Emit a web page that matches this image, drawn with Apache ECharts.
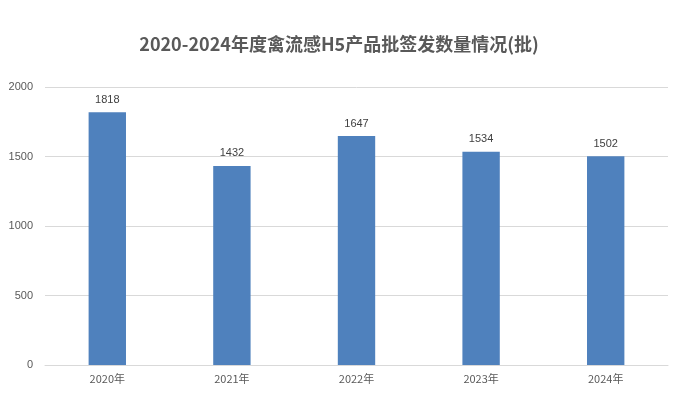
<!DOCTYPE html>
<html>
<head>
<meta charset="utf-8">
<script src="https://cdn.jsdelivr.net/npm/echarts@6/dist/echarts.min.js"></script>
<style>html,body{margin:0;padding:0;background:#fff}#c{width:678px;height:401px}</style>
</head>
<body>
<div id="c"></div>
<script>
var years = ['2020年', '2021年', '2022年', '2023年', '2024年'];
var counts = [1818, 1432, 1647, 1534, 1502];
var yTicks = [0, 500, 1000, 1500, 2000];

var chart = echarts.init(document.getElementById('c'));
chart.setOption({
    animation: false,
    title: {
        text: '2020-2024年度禽流感H5产品批签发数量情况(批)',
        left: 'center', top: 30,
        textStyle: {fontSize: 18, fontWeight: 'bold', color: '#595959', fontFamily: 'Noto Sans CJK SC'}
    },
    grid: {left: 45, right: 10, top: 87, bottom: 36},
    xAxis: {
        type: 'category', data: years,
        axisTick: {show: false},
        axisLine: {lineStyle: {color: '#d9d9d9'}},
        axisLabel: {color: '#595959', fontSize: 11, fontFamily: 'Noto Sans CJK SC'}
    },
    yAxis: {
        type: 'value', min: yTicks[0], max: yTicks[yTicks.length - 1], interval: 500,
        axisLine: {show: false}, axisTick: {show: false},
        splitLine: {lineStyle: {color: '#d9d9d9'}},
        axisLabel: {color: '#595959', fontSize: 11, margin: 12, formatter: function (v) { return String(v); }}
    },
    series: [{
        type: 'bar', data: counts, barWidth: '30%',
        itemStyle: {color: '#4f81bd'},
        label: {show: true, position: 'top', color: '#404040', fontSize: 11, distance: 7}
    }]
});
</script>
</body>
</html>
